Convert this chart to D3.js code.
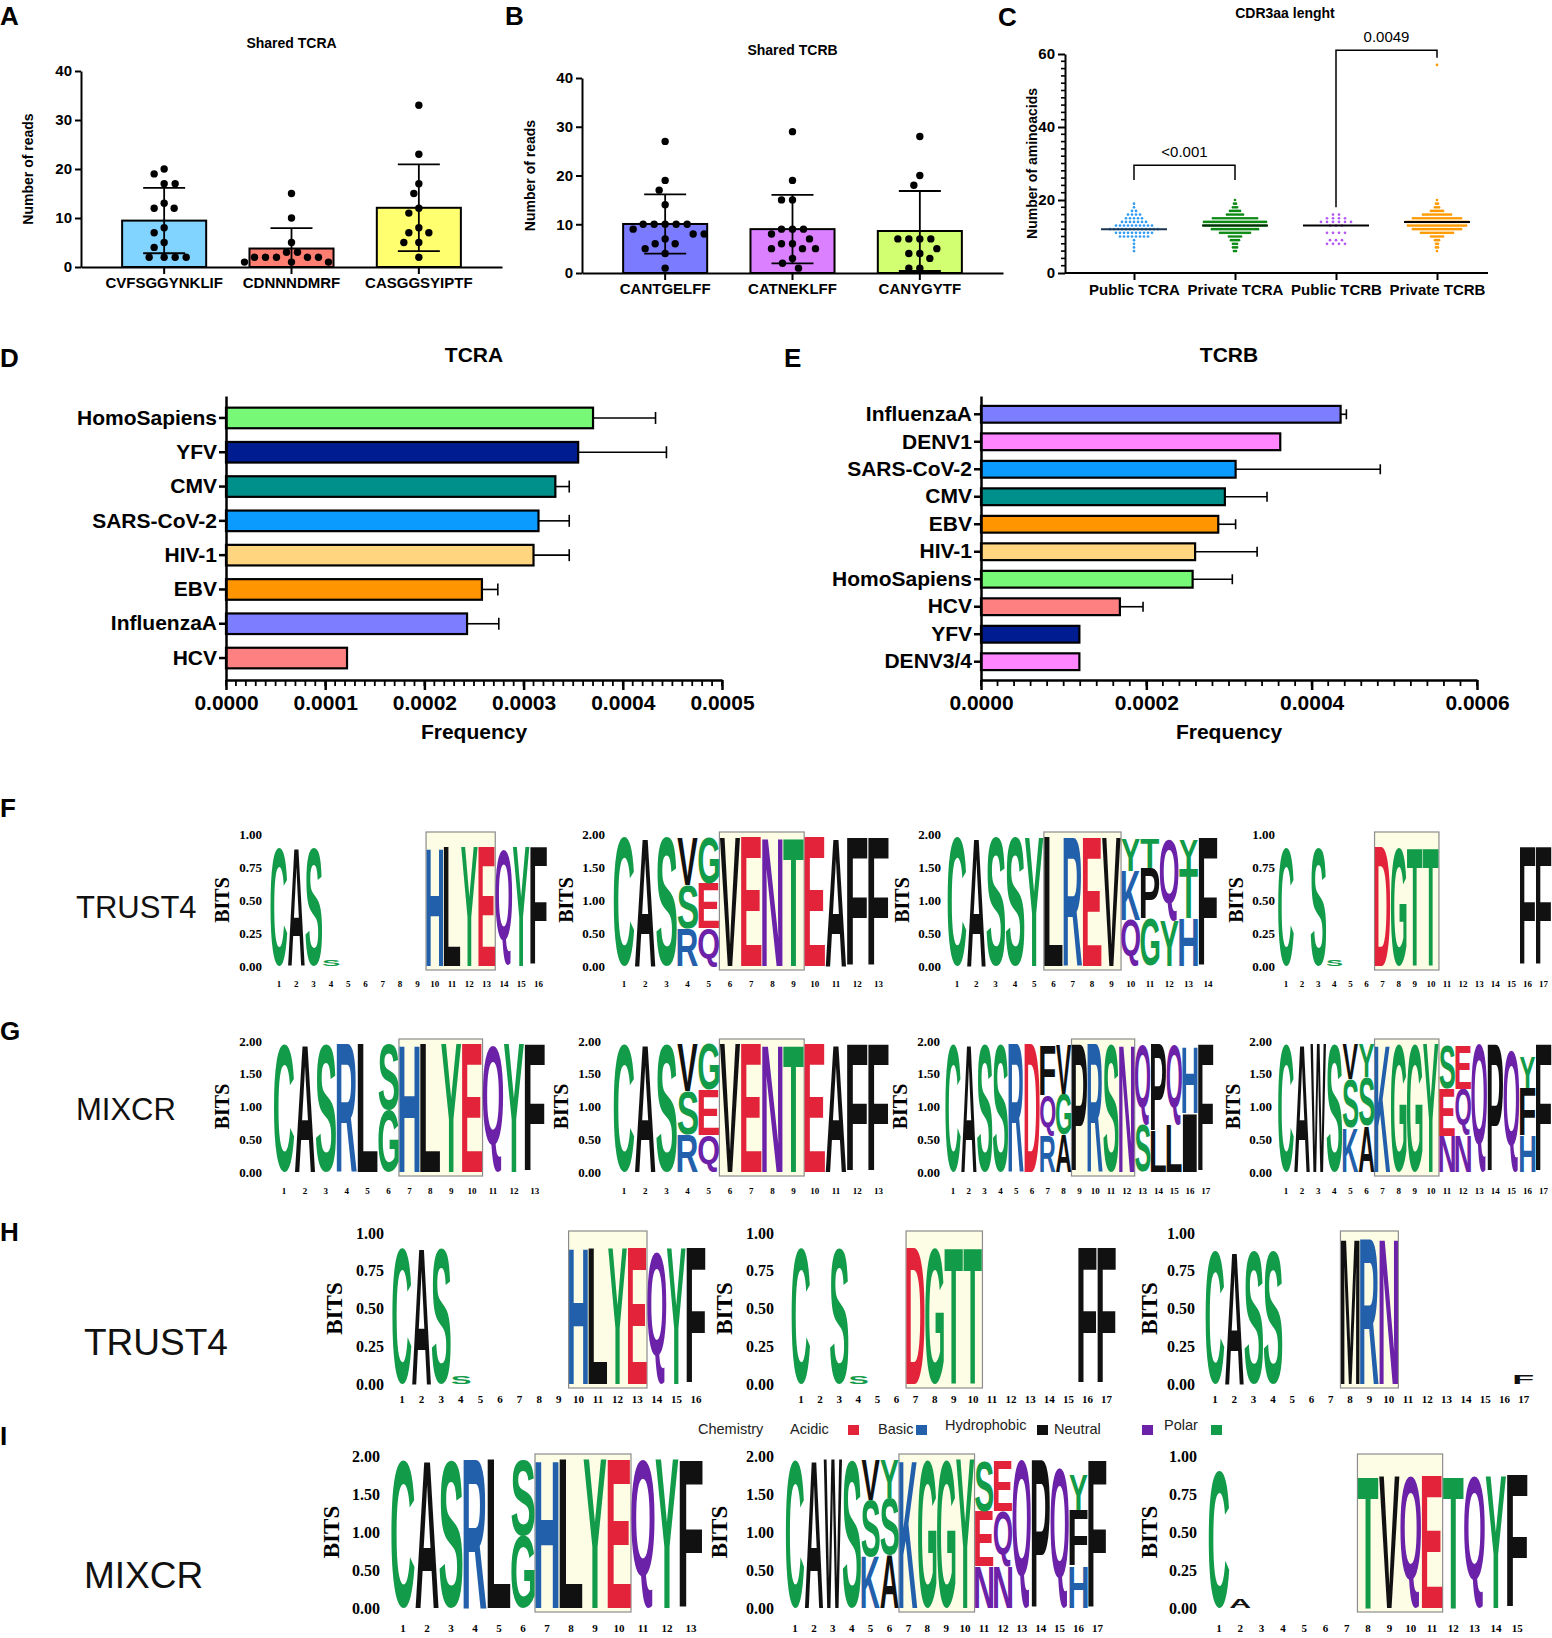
<!DOCTYPE html>
<html><head><meta charset="utf-8">
<script src="https://cdn.jsdelivr.net/npm/d3@7"></script>
<style>body{margin:0;background:#fff}</style>
</head><body>
<svg id="fig" width="1552" height="1638" xmlns="http://www.w3.org/2000/svg"></svg>
<script>
// ---------------- DATA ----------------
const tcraSeqs = ["CVFSGGYNKLIF","CDNNNDMRF","CASGGSYIPTF"];
const tcraReads = [
  [20,19,17,17,13,12,12,8,7,5,4,2,2,2,2],
  [15,10,5,3,3,2,2,2,2,2,1,1,1],
  [33,23,17,15,12,11,8,7,7,5,5,2]
];
const tcrbSeqs = ["CANTGELFF","CATNEKLFF","CANYGYTF"];
const tcrbReads = [
  [27,19,17,14,10,10,10,10,10,9,8,8,7,6,6,5,4,1],
  [29,19,15,15,9,9,9,8,7,6,6,5,5,5,3,2,1],
  [28,20,18,7,7,7,7,5,4,4,3,1,1]
];
const readTicks = [0,10,20,30,40];

const cdr3Groups = ["Public TCRA","Private TCRA","Public TCRB","Private TCRB"];
const cdr3Lengths = [6,7,8,9,10,11,12,13,14,15,16,17,18,19,20,57];
const cdr3PublicTCRA  = [1,1,1,1,8,10,13,10,7,5,4,2,1,1,0,0];
const cdr3PrivateTCRA = [2,3,3,5,7,16,24,32,32,23,9,6,3,2,1,0];
const cdr3PublicTCRB  = [0,0,4,3,0,4,0,3,6,4,2,0,0,0,0,0];
const cdr3PrivateTCRB = [1,2,2,3,7,17,25,30,32,25,15,7,3,2,1,1];
const cdr3Medians = [12,13,13,14];
const cdr3Ticks = [0,20,40,60];
const cdr3Brackets = [[0,1],[2,3]];
const cdr3BracketTop = [29.5,61];
const cdr3BracketLegs = [[25.5,25.5],[18,59]];
const cdr3Pvalues = ["<0.001","0.0049"];

const tcraSources = ["HomoSapiens","YFV","CMV","SARS-CoV-2","HIV-1","EBV","InfluenzaA","HCV"];
const tcraFreq = [0.000370,0.000355,0.000332,0.000315,0.000310,0.000258,0.000243,0.000122];
const tcraErr  = [0.000063,0.000089,0.000014,0.000031,0.000036,0.000016,0.000032,0];
const tcraFreqTicks = [0,0.0001,0.0002,0.0003,0.0004,0.0005];

const tcrbSources = ["InfluenzaA","DENV1","SARS-CoV-2","CMV","EBV","HIV-1","HomoSapiens","HCV","YFV","DENV3/4"];
const tcrbFreq = [0.000435,0.000362,0.000308,0.000295,0.000287,0.000259,0.000256,0.000168,0.000119,0.000119];
const tcrbErr  = [0.000007,0,0.000175,0.000051,0.000021,0.000075,0.000048,0.000028,0,0];
const tcrbFreqTicks = [0,0.0002,0.0004,0.0006];

// sequence logos: each column lists [letter, bits] from top to bottom
const logoTrustCAS_HLYEQYF = [[["C",.9]],[["A",.9]],[["S",.9]],[["S",.05]],[],[],[],[],[],
  [["H",.9]],[["L",.9]],[["Y",.9]],[["E",.9]],[["Q",.87]],[["Y",.9]],[["F",.9]]];
const logoCASVENTEAFF = [[["C",1.95]],[["A",1.95]],[["S",1.95]],[["V",.72],["S",.66],["R",.57]],
  [["G",.7],["E",.68],["Q",.57]],[["V",1.95]],[["E",1.95]],[["N",1.95]],[["T",1.95]],
  [["E",1.95]],[["A",1.95]],[["F",1.95]],[["F",1.95]]];
const logoCASSYLREV = [[["C",1.95]],[["A",1.95]],[["S",1.95]],[["S",1.95]],[["Y",1.95]],
  [["L",1.95]],[["R",1.95]],[["E",1.95]],[["V",1.95]],
  [["Y",.48],["K",.74],["Q",.7]],[["T",.45],["P",.76],["G",.72]],[["Q",1.25],["Y",.68]],
  [["Y",.45],["T",.75],["H",.72]],[["F",1.95]]];
const logoTrustC_S_DGTT_FF = [[["C",.9]],[],[["S",.9]],[["S",.05]],[],[],
  [["D",.9]],[["G",.9]],[["T",.9]],[["T",.9]],[],[],[],[],[],[["F",.9]],[["F",.9]]];
const logoCASRLSHLYEQYF = [[["C",1.95]],[["A",1.95]],[["S",1.95]],[["R",1.95]],[["L",1.95]],
  [["S",1.0],["G",.95]],[["H",1.95]],[["L",1.95]],[["Y",1.95]],[["E",1.95]],
  [["Q",1.95]],[["Y",1.95]],[["F",1.95]]];
const logoCASSRDPRSN = [[["C",1.95]],[["A",1.95]],[["S",1.95]],[["S",1.95]],[["R",1.95]],[["D",1.95]],
  [["F",.76],["Q",.62],["R",.55]],[["V",.74],["G",.62],["A",.57]],
  [["P",1.95]],[["R",1.95]],[["S",1.95]],[["N",1.95]],
  [["Q",1.22],["S",.72]],[["P",1.32],["L",.62]],[["Q",1.22],["L",.72]],[["H",1.02],["I",.9]],[["F",1.95]]];
const logoCAWSKGGY = [[["C",1.95]],[["A",1.95]],[["W",1.95]],[["S",1.95]],
  [["V",.52],["S",.74],["K",.68]],[["Y",.5],["S",.75],["A",.7]],
  [["K",1.95]],[["G",1.95]],[["G",1.95]],[["Y",1.95]],
  [["S",.66],["E",.72],["N",.55]],[["E",.66],["Q",.72],["N",.55]],
  [["Q",1.95]],[["P",1.95]],[["Q",1.85]],[["Y",.46],["F",.74],["H",.55]],[["F",1.95]]];
const logoTrustCASS_MRN = [[["C",.88]],[["A",.88]],[["S",.88]],[["S",.88]],[],[],[],
  [["M",.96]],[["R",.96]],[["N",.96]],[],[],[],[],[],[],[["F",.06]]];
const logoMixC_TVQETQYF = [[["C",.9]],[["A",.06]],[],[],[],[],[],
  [["T",.87]],[["V",.87]],[["Q",.87]],[["E",.87]],[["T",.87]],[["Q",.87]],[["Y",.87]],[["F",.87]]];

const chemistryClasses = ["Acidic","Basic","Hydrophobic","Neutral","Polar"];
const chemistryLetters = ["DE","KRH","AVLIPWFM","QN","GSTYC"];
const logoMethods = ["TRUST4","MIXCR","TRUST4","MIXCR"];
const panelLetters = ["A","B","C","D","E","F","G","H","I"];

// ---------------- STYLE / LAYOUT ----------------
const SANS = '"Liberation Sans", Arial, Helvetica, sans-serif';
const SERIF = '"Liberation Serif", "Times New Roman", serif';
const tcraBarColors = ["#80D4FF","#FF7E72","#FFFF70"];
const tcrbBarColors = ["#7B7BFF","#DB80FF","#D2FF72"];
const cdr3DotColors = ["#2F9BF2","#0C8A14","#B457F7","#FF9A00"];
const cdr3LineColors = ["#1E3550","#0b2a0b","#000","#000"];
const cdr3DotSpacing = [4,2,6,2];
const sourceColors = {"HomoSapiens":"#77F877","YFV":"#001C91","CMV":"#00908C","SARS-CoV-2":"#0B9BFF",
  "HIV-1":"#FFD67F","EBV":"#FF9500","InfluenzaA":"#7D7DFF","HCV":"#FF8080","DENV1":"#FF85FF","DENV3/4":"#FF85FF"};
const chemColors = ["#E3233A","#2360AB","#111111","#6B21A8","#129B48"];

const svg = d3.select("#fig");

function styleAxis(g, sw, fs){
  g.select(".domain").attr("stroke","#000").attr("stroke-width",sw);
  g.selectAll(".tick line").attr("stroke","#000").attr("stroke-width",sw);
  g.selectAll(".tick text").attr("fill","#000").attr("font-family",SANS).attr("font-weight","bold").attr("font-size",fs);
}

function swarm(values, y, cx, D){
  const sorted = values.map(v=>v).sort((a,b)=>b-a);
  const placed = [];
  sorted.forEach(v=>{
    const py = y(v);
    let off = 0;
    for(let k=0;k<400;k++){
      const o = (k%2 ? -1 : 1) * Math.ceil(k/2);
      if(placed.every(q => (q.x-o)*(q.x-o) + (q.y-py)*(q.y-py) >= D*D)){ off = o; break; }
    }
    placed.push({x:off, y:py});
  });
  return placed.map(p=>({cx:cx+p.x, cy:p.y}));
}

// ---------- panels A/B ----------
function readsPanel(seqs, reads, colors, L){
  const g = svg.append("g");
  const x = d3.scaleBand().domain(seqs).range([L.x0,L.x1]).paddingInner(0.34).paddingOuter(0.323);
  const y = d3.scaleLinear().domain([0,40]).range([L.yBase,L.yTop]);
  seqs.forEach((s,i)=>{
    const vals = reads[i], m = d3.mean(vals), sd = d3.deviation(vals);
    const cx = x(s)+x.bandwidth()/2;
    g.append("rect").attr("x",x(s)).attr("y",y(m)).attr("width",x.bandwidth()).attr("height",y(0)-y(m))
      .attr("fill",colors[i]).attr("stroke","#000").attr("stroke-width",2);
    const lo = Math.max(0,m-sd), hi = m+sd;
    g.append("line").attr("x1",cx).attr("x2",cx).attr("y1",y(lo)).attr("y2",y(hi)).attr("stroke","#000").attr("stroke-width",1.8);
    g.append("line").attr("x1",cx-21).attr("x2",cx+21).attr("y1",y(hi)).attr("y2",y(hi)).attr("stroke","#000").attr("stroke-width",1.8);
    if(m-sd>0) g.append("line").attr("x1",cx-21).attr("x2",cx+21).attr("y1",y(lo)).attr("y2",y(lo)).attr("stroke","#000").attr("stroke-width",1.8);
    swarm(vals,y,cx,11).forEach(p=>g.append("circle").attr("cx",p.cx).attr("cy",p.cy).attr("r",3.7).attr("fill","#000"));
  });
  const ya = g.append("g").attr("transform",`translate(${L.x0},0)`).call(d3.axisLeft(y).tickValues(readTicks).tickSize(6).tickSizeOuter(0).tickPadding(3));
  styleAxis(ya,2,15);
  const xa = g.append("g").attr("transform",`translate(0,${L.yBase})`).call(d3.axisBottom(x).tickSize(7).tickSizeOuter(0).tickPadding(3));
  styleAxis(xa,2,15);
  g.append("text").attr("x",(L.x0+L.x1)/2+L.titleDx).attr("y",L.titleY).attr("text-anchor","middle")
    .attr("font-family",SANS).attr("font-weight","bold").attr("font-size",14).text(L.title);
  g.append("text").attr("transform",`translate(${L.ylabX},${(L.yTop+L.yBase)/2}) rotate(-90)`).attr("text-anchor","middle")
    .attr("font-family",SANS).attr("font-weight","bold").attr("font-size",14).text("Number of reads");
}
readsPanel(tcraSeqs,tcraReads,tcraBarColors,{x0:81,x1:502,yTop:71,yBase:267,title:"Shared TCRA",titleY:48,titleDx:0,ylabX:33});
readsPanel(tcrbSeqs,tcrbReads,tcrbBarColors,{x0:582,x1:1003,yTop:78,yBase:273,title:"Shared TCRB",titleY:55,titleDx:0,ylabX:535});

// ---------- panel C ----------
(function(){
  const g = svg.append("g");
  const X0 = 1065, X1 = 1488, YB = 273, YT = 54;
  const y = d3.scaleLinear().domain([0,60]).range([YB,YT]);
  const x = d3.scalePoint().domain(cdr3Groups).range([1134,1437]);
  const counts = [cdr3PublicTCRA,cdr3PrivateTCRA,cdr3PublicTCRB,cdr3PrivateTCRB];
  cdr3Groups.forEach((grp,gi)=>{
    cdr3Lengths.forEach((len,li)=>{
      const c = counts[gi][li];
      for(let k=0;k<c;k++){
        g.append("circle").attr("cx",x(grp)+(k-(c-1)/2)*cdr3DotSpacing[gi]).attr("cy",y(len)).attr("r",1.35).attr("fill",cdr3DotColors[gi]);
      }
    });
    g.append("line").attr("x1",x(grp)-33).attr("x2",x(grp)+33).attr("y1",y(cdr3Medians[gi])).attr("y2",y(cdr3Medians[gi]))
      .attr("stroke",cdr3LineColors[gi]).attr("stroke-width",2);
  });
  d3.range(0,61,2).filter(v=>v%20!==0).forEach(v=>{
    g.append("line").attr("x1",X0-4).attr("x2",X0).attr("y1",y(v)).attr("y2",y(v)).attr("stroke","#000").attr("stroke-width",1.6);
  });
  const ya = g.append("g").attr("transform",`translate(${X0},0)`).call(d3.axisLeft(y).tickValues(cdr3Ticks).tickSize(7).tickSizeOuter(0).tickPadding(3));
  styleAxis(ya,2,15);
  g.append("line").attr("x1",X0).attr("x2",X1).attr("y1",YB).attr("y2",YB).attr("stroke","#000").attr("stroke-width",2);
  const xa = g.append("g").attr("transform",`translate(0,${YB})`).call(d3.axisBottom(x).tickSize(7).tickSizeOuter(0).tickPadding(4));
  styleAxis(xa,2,15); xa.select(".domain").remove();
  cdr3Brackets.forEach((b,i)=>{
    const xa1 = x(cdr3Groups[b[0]]), xb = x(cdr3Groups[b[1]]), yt = y(cdr3BracketTop[i]);
    g.append("path").attr("d",`M${xa1},${y(cdr3BracketLegs[i][0])}V${yt}H${xb}V${y(cdr3BracketLegs[i][1])}`)
      .attr("fill","none").attr("stroke","#000").attr("stroke-width",1.5);
    g.append("text").attr("x",(xa1+xb)/2).attr("y",yt-8).attr("text-anchor","middle").attr("font-family",SANS).attr("font-size",15).text(cdr3Pvalues[i]);
  });
  g.append("text").attr("x",1285).attr("y",18).attr("text-anchor","middle").attr("font-family",SANS).attr("font-weight","bold").attr("font-size",14).text("CDR3aa lenght");
  g.append("text").attr("transform",`translate(1037,${(YT+YB)/2}) rotate(-90)`).attr("text-anchor","middle")
    .attr("font-family",SANS).attr("font-weight","bold").attr("font-size",14).text("Number of aminoacids");
})();

// ---------- panels D/E ----------
function hbarPanel(sources, freq, err, ticks, minorStep, L){
  const g = svg.append("g");
  const xMax = ticks[ticks.length-1];
  const x = d3.scaleLinear().domain([0,xMax]).range([L.x0,L.x1]);
  const y = d3.scaleBand().domain(sources).range([L.yTop,L.yBase]).paddingInner(L.pi).paddingOuter(L.po);
  sources.forEach((s,i)=>{
    g.append("rect").attr("x",x(0)).attr("y",y(s)).attr("width",x(freq[i])-x(0)).attr("height",y.bandwidth())
      .attr("fill",sourceColors[s]).attr("stroke","#000").attr("stroke-width",2.2);
    if(err[i]>0){
      const cy = y(s)+y.bandwidth()/2, xe = x(freq[i]+err[i]);
      g.append("line").attr("x1",x(freq[i])).attr("x2",xe).attr("y1",cy).attr("y2",cy).attr("stroke","#000").attr("stroke-width",1.6);
      g.append("line").attr("x1",xe).attr("x2",xe).attr("y1",cy-L.cap/2).attr("y2",cy+L.cap/2).attr("stroke","#000").attr("stroke-width",1.6);
    }
  });
  d3.range(0,xMax+1e-12,minorStep).forEach(v=>{
    g.append("line").attr("x1",x(v)).attr("x2",x(v)).attr("y1",L.yBase).attr("y2",L.yBase+6).attr("stroke","#000").attr("stroke-width",1.8);
  });
  const xa = g.append("g").attr("transform",`translate(0,${L.yBase})`).call(d3.axisBottom(x).tickValues(ticks).tickFormat(d3.format(".4f")).tickSize(10).tickSizeOuter(0).tickPadding(5));
  styleAxis(xa,2.5,21);
  const ya = g.append("g").attr("transform",`translate(${L.x0},0)`).call(d3.axisLeft(y).tickSize(7).tickSizeOuter(0).tickPadding(2));
  styleAxis(ya,2.5,21);
  g.append("text").attr("x",(L.x0+L.x1)/2).attr("y",362).attr("text-anchor","middle").attr("font-family",SANS).attr("font-weight","bold").attr("font-size",21).text(L.title);
  g.append("text").attr("x",(L.x0+L.x1)/2).attr("y",739).attr("text-anchor","middle").attr("font-family",SANS).attr("font-weight","bold").attr("font-size",21).text("Frequency");
}
hbarPanel(tcraSources,tcraFreq,tcraErr,tcraFreqTicks,0.00001,{x0:226,x1:722,yTop:396,yBase:680,pi:0.4,po:0.34,cap:12,title:"TCRA"});
hbarPanel(tcrbSources,tcrbFreq,tcrbErr,tcrbFreqTicks,0.00002,{x0:981,x1:1477,yTop:396,yBase:680,pi:0.39,po:0.36,cap:10,title:"TCRB"});

// ---------- logos ----------
const mctx = document.createElement("canvas").getContext("2d");
mctx.font = 'bold 100px "Liberation Sans", Arial, sans-serif';
const inkCache = {};
function ink(ch){
  if(!inkCache[ch]){ const m = mctx.measureText(ch);
    inkCache[ch] = {l:m.actualBoundingBoxLeft, r:m.actualBoundingBoxRight, a:m.actualBoundingBoxAscent, d:m.actualBoundingBoxDescent}; }
  return inkCache[ch];
}
function chemColor(ch){ const i = chemistryLetters.findIndex(s=>s.includes(ch)); return i<0 ? "#111" : chemColors[i]; }
function glyph(g, ch, x0, y0, w, h){
  const b = ink(ch), iw = b.l+b.r, ih = b.a+b.d;
  if(h<=0||iw<=0) return;
  g.append("text").text(ch).attr("font-family",SANS).attr("font-weight","bold").attr("font-size",100).attr("fill",chemColor(ch))
    .attr("transform",`translate(${x0},${y0}) scale(${w/iw},${h/ih}) translate(${b.l},${b.a})`);
}
const logoRows = [
  {yTop:834, yBase:966, numY:987, tickFs:13, bitsFs:20, numFs:9},
  {yTop:1041,yBase:1172,numY:1194,tickFs:13, bitsFs:20, numFs:9},
  {yTop:1233,yBase:1384,numY:1403,tickFs:16, bitsFs:23, numFs:11},
  {yTop:1456,yBase:1608,numY:1632,tickFs:16, bitsFs:23, numFs:11}
];
const logoPanels = [
  {row:0, logo:logoTrustCAS_HLYEQYF, box:[10,13], max:1, x1:279, step:17.3, tick:262, bits:222},
  {row:0, logo:logoCASVENTEAFF,      box:[6,9],   max:2, x1:624, step:21.2, tick:605, bits:566},
  {row:0, logo:logoCASSYLREV,        box:[6,9],   max:2, x1:957, step:19.3, tick:941, bits:902},
  {row:0, logo:logoTrustC_S_DGTT_FF, box:[7,10],  max:1, x1:1286,step:16.1, tick:1275,bits:1236},
  {row:1, logo:logoCASRLSHLYEQYF,    box:[7,10],  max:2, x1:284, step:20.9, tick:262, bits:222},
  {row:1, logo:logoCASVENTEAFF,      box:[6,9],   max:2, x1:624, step:21.2, tick:601, bits:561},
  {row:1, logo:logoCASSRDPRSN,       box:[9,12],  max:2, x1:953, step:15.8, tick:940, bits:900},
  {row:1, logo:logoCAWSKGGY,         box:[7,10],  max:2, x1:1286,step:16.1, tick:1272,bits:1233},
  {row:2, logo:logoTrustCAS_HLYEQYF, box:[10,13], max:1, x1:402, step:19.6, tick:384, bits:334},
  {row:2, logo:logoTrustC_S_DGTT_FF, box:[7,10],  max:1, x1:801, step:19.1, tick:774, bits:724},
  {row:2, logo:logoTrustCASS_MRN,    box:[8,10],  max:1, x1:1215,step:19.3, tick:1195,bits:1149},
  {row:3, logo:logoCASRLSHLYEQYF,    box:[7,10],  max:2, x1:403, step:24,   tick:380, bits:331},
  {row:3, logo:logoCAWSKGGY,         box:[7,10],  max:2, x1:795, step:18.9, tick:774, bits:719},
  {row:3, logo:logoMixC_TVQETQYF,    box:[8,11],  max:1, x1:1219,step:21.3, tick:1197,bits:1149}
];
logoPanels.forEach(P=>{
  const R = logoRows[P.row], g = svg.append("g"), n = P.logo.length;
  const x = d3.scaleLinear().domain([1,n]).range([P.x1, P.x1+(n-1)*P.step]);
  const y = d3.scaleLinear().domain([0,P.max]).range([R.yBase,R.yTop]);
  g.append("rect").attr("x",x(P.box[0])-P.step/2).attr("width",(P.box[1]-P.box[0]+1)*P.step)
    .attr("y",R.yTop-2).attr("height",R.yBase-R.yTop+6).attr("fill","#FDFDE6").attr("stroke","#8c8c8c").attr("stroke-width",1.2);
  const w = P.step*0.97;
  P.logo.forEach((col,i)=>{
    let base = 0;
    col.slice().reverse().forEach(([ch,bits])=>{
      const yb = y(base), yt = y(base+bits);
      glyph(g, ch, x(i+1)-w/2, yt, w, yb-yt);
      base += bits;
    });
  });
  d3.range(5).map(k=>k*P.max/4).forEach(t=>{
    g.append("text").attr("x",P.tick).attr("y",y(t)).attr("dy","0.35em").attr("text-anchor","end")
      .attr("font-family",SERIF).attr("font-weight","bold").attr("font-size",R.tickFs).text(d3.format(".2f")(t));
  });
  g.append("text").attr("transform",`translate(${P.bits},${(R.yTop+R.yBase)/2}) rotate(-90)`).attr("dy","0.35em").attr("text-anchor","middle")
    .attr("font-family",SERIF).attr("font-weight","bold").attr("font-size",R.bitsFs).text("BITS");
  d3.range(1,n+1).forEach(k=>{
    g.append("text").attr("x",x(k)).attr("y",R.numY).attr("text-anchor","middle")
      .attr("font-family",SERIF).attr("font-weight","bold").attr("font-size",R.numFs).text(k);
  });
});

// row method labels
const methodLayout = [{x:76,y:918,fs:31},{x:76,y:1120,fs:31},{x:84,y:1355,fs:37},{x:84,y:1588,fs:37}];
logoMethods.forEach((m,i)=>{
  svg.append("text").attr("x",methodLayout[i].x).attr("y",methodLayout[i].y).attr("font-family",SANS)
    .attr("font-size",methodLayout[i].fs).attr("fill","#111").text(m);
});

// chemistry legend
(function(){
  const g = svg.append("g").attr("font-family",SANS).attr("font-size",14.5).attr("fill","#222");
  g.append("text").attr("x",698).attr("y",1434).text("Chemistry");
  const labelX = [790,878,945,1054,1164], swX = [848,916,1037,1142,1211], labelY = [1434,1434,1430,1434,1430];
  chemistryClasses.forEach((c,i)=>{
    g.append("text").attr("x",labelX[i]).attr("y",labelY[i]).text(c);
    g.append("rect").attr("x",swX[i]).attr("y",1425).attr("width",11).attr("height",10).attr("fill",chemColors[i]);
  });
})();

// panel letters
const letterPos = [[0,25],[505,25],[998,26],[0,367],[784,367],[0,817],[0,1040],[0,1241],[0,1445]];
panelLetters.forEach((t,i)=>{
  svg.append("text").attr("x",letterPos[i][0]).attr("y",letterPos[i][1]).attr("font-family",SANS).attr("font-weight","bold").attr("font-size",26).text(t);
});
</script>
</body></html>
